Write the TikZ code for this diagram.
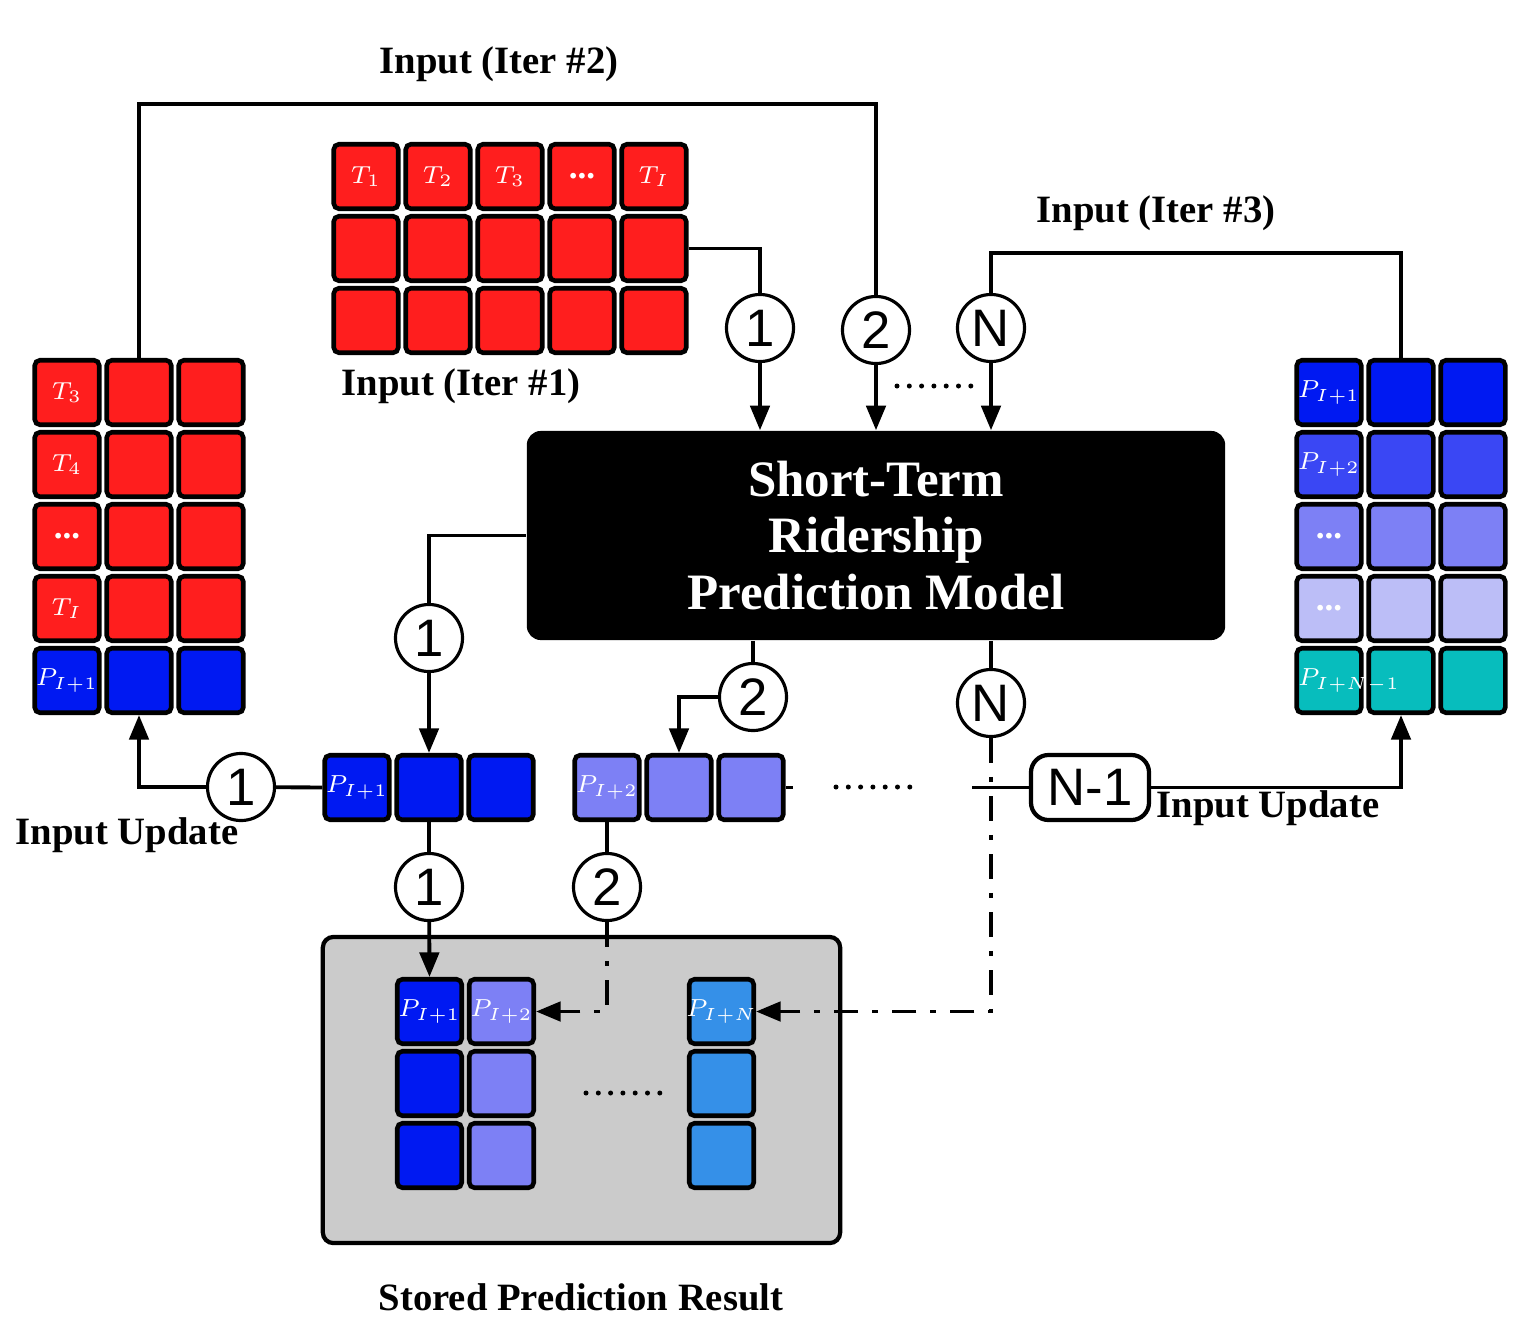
\documentclass[tikz,border=0pt]{standalone}
\usepackage{fontspec}
\setmainfont{Liberation Serif}
\newfontfamily\numfont{Liberation Sans}
\usetikzlibrary{positioning, arrows.meta, calc}
\definecolor{tred}{HTML}{FF1E1E}
\definecolor{pblue}{HTML}{0019F2}
\definecolor{pblueb}{HTML}{3A47F4}
\definecolor{pbluec}{HTML}{7D80F5}
\definecolor{pblued}{HTML}{BCBEF7}
\definecolor{pteal}{HTML}{07BDBD}
\definecolor{psky}{HTML}{3590E8}
\definecolor{store}{HTML}{CBCBCB}
\newcommand{\celldots}{{\fontsize{10}{10}\selectfont\bfseries ...}}

\tikzset{
  cell/.style={draw=black, line width=1.3pt, rounded corners=1.5pt, minimum size=0.645cm, inner sep=0pt},
  celltxt/.style={text=white, font=\fontsize{7}{8}\selectfont, inner sep=0pt},
  num/.style={circle, draw, line width=0.9pt, fill=white, minimum size=0.67cm, inner sep=0pt, font=\numfont\fontsize{15}{15}\selectfont},
  conn/.style={line width=1.1pt},
  arr/.style={conn, -{Triangle[length=7pt, width=5.5pt]}},
  dashdot/.style={dash pattern=on 7pt off 4pt on 1.5pt off 4pt},
  lbl/.style={font=\fontsize{11}{13}\selectfont\bfseries},
}

\begin{document}
\begin{tikzpicture}[x=0.01cm, y=-0.01cm]
  \useasboundingbox (0,0) rectangle (1518,1324);

  % stored results box
  \node[draw, line width=1.2pt, fill=store, rounded corners=3pt, minimum width=5.17cm, minimum height=3.06cm] (sbox) at (581.5,1090) {};

  % input matrix (iter 1)
  \foreach \c in {1,...,5}
    \foreach \r in {1,2,3}
      \node[cell, fill=tred] (a\c\r) at ({366+72*(\c-1)}, {176.5+72*(\r-1)}) {};
  \foreach \c/\t in {1/$T_1$, 2/$T_2$, 3/$T_3$, 4/\celldots, 5/$T_I$}
    \node[celltxt] (ta\c) at (a\c1) {\t};

  % input matrix (iter 2)
  \foreach \c in {1,2,3}
    \foreach \r/\col in {1/tred, 2/tred, 3/tred, 4/tred, 5/pblue}
      \node[cell, fill=\col] (l\c\r) at ({67+72*(\c-1)}, {392.5+72*(\r-1)}) {};
  \foreach \r/\t in {1/$T_3$, 2/$T_4$, 3/\celldots, 4/$T_I$, 5/$P_{I+1}$}
    \node[celltxt] (tl\r) at (l1\r) {\t};

  % input matrix (iter 3)
  \foreach \c in {1,2,3}
    \foreach \r/\col in {1/pblue, 2/pblueb, 3/pbluec, 4/pblued, 5/pteal}
      \node[cell, fill=\col] (r\c\r) at ({1329+72*(\c-1)}, {392.5+72*(\r-1)}) {};
  \foreach \r/\t in {1/$P_{I+1}$, 2/$P_{I+2}$, 3/\celldots, 4/\celldots}
    \node[celltxt] (tr\r) at (r1\r) {\t};
  \node[celltxt] (tr5) at ($(r15)+(20,0)$) {$P_{I+N-1}$};

  % model
  \node[fill=black, rounded corners=4pt, minimum width=6.98cm, minimum height=2.09cm, text=white, align=center,
        font=\fontsize{14.5}{16}\selectfont\bfseries] (mdl) at (876,535.5) {Short-Term\\Ridership\\Prediction Model};

  % predictions
  \foreach \c in {1,2,3} {
    \node[cell, fill=pblue] (m1\c) at ({357+72*(\c-1)}, 787.5) {};
    \node[cell, fill=pbluec] (m2\c) at ({607+72*(\c-1)}, 787.5) {};
  }
  \node[celltxt] (tm1) at (m11) {$P_{I+1}$};
  \node[celltxt] (tm2) at (m21) {$P_{I+2}$};

  % stored cells
  \foreach \r in {1,2,3} {
    \node[cell, fill=pblue] (s1\r) at (429.5, {1011.5+72*(\r-1)}) {};
    \node[cell, fill=pbluec] (s2\r) at (501.5, {1011.5+72*(\r-1)}) {};
    \node[cell, fill=psky] (s3\r) at (721.5, {1011.5+72*(\r-1)}) {};
  }
  \node[celltxt] (ts1) at (s11) {$P_{I+1}$};
  \node[celltxt] (ts2) at (s21) {$P_{I+2}$};
  \node[celltxt] (ts3) at (s31) {$P_{I+N}$};

  % step markers
  \node[num] (i1) at (760,328) {1};
  \node[num] (i2) at (876,330) {2};
  \node[num] (iN) at (991,328) {N};
  \node[num] (o1) at (429,638) {1};
  \node[num] (o2) at (753,697) {2};
  \node[num] (oN) at (991,703) {N};
  \node[num] (u1) at (241,787) {1};
  \node[num] (st1) at (429,887) {1};
  \node[num] (st2) at (607,887) {2};
  \node[draw, line width=1.2pt, rounded corners=5pt, minimum width=1.18cm, minimum height=0.65cm, inner sep=0pt,
        font=\numfont\fontsize{15}{15}\selectfont] (nm1) at (1090,787.5) {N-1};

  \coordinate (k2) at (139,104);
  \coordinate (k3) at (1401,253);
  \coordinate (k4) at (972,787.5);

  % inputs into the model
  \draw[conn] (a52.east) -| (i1);
  \draw[arr] (i1) -- (i1 |- mdl.north);
  \draw[conn] (l21.north) -- (k2) -| (i2);
  \draw[arr] (i2) -- (i2 |- mdl.north);
  \draw[conn] (r21.north) -- (k3) -| (iN);
  \draw[arr] (iN) -- (iN |- mdl.north);

  % outputs of the model
  \draw[conn] (mdl.west) -| (o1);
  \draw[arr] (o1) -- (m12.north);
  \draw[conn] (o2 |- mdl.south) -- (o2);
  \draw[arr] (o2.west) -| (m22.north);
  \draw[conn] (oN |- mdl.south) -- (oN);
  \draw[arr, dashdot] (oN) |- (s31.east);

  % store
  \draw[conn] (m12.south) -- (st1);
  \draw[arr] (st1) -- (s11.north);
  \draw[conn] (m21.south) -- (st2);
  \draw[arr, dashdot] (st2) |- (s21.east);

  % input update
  \draw[conn] (m11.west) -- (u1);
  \draw[arr] (u1) -| (l25.south);
  \draw[conn] (m23.east) -- ++(7,0);
  \draw[conn] (k4) -- (nm1);
  \draw[arr] (nm1) -| (r25.south);

  % dots
  \foreach \k in {0,...,6} {
    \fill (897+12.3*\k, 386) circle[radius=0.025cm];
    \fill (836+12.3*\k, 787) circle[radius=0.025cm];
    \fill (586+12.3*\k, 1093) circle[radius=0.025cm];
  }

  % labels
  \node[lbl] (lb2) at (499,64) {Input (Iter \#2)};
  \node[lbl] (lb1) at (461,386) {Input (Iter \#1)};
  \node[lbl] (lb3) at (1156,213) {Input (Iter \#3)};
  \node[lbl] (lbu) at (127,835) {Input Update};
  \node[lbl] (lbv) at (1268,808) {Input Update};
  \node[lbl] (lbs) at (581,1297) {Stored Prediction Result};
\end{tikzpicture}
\end{document}
